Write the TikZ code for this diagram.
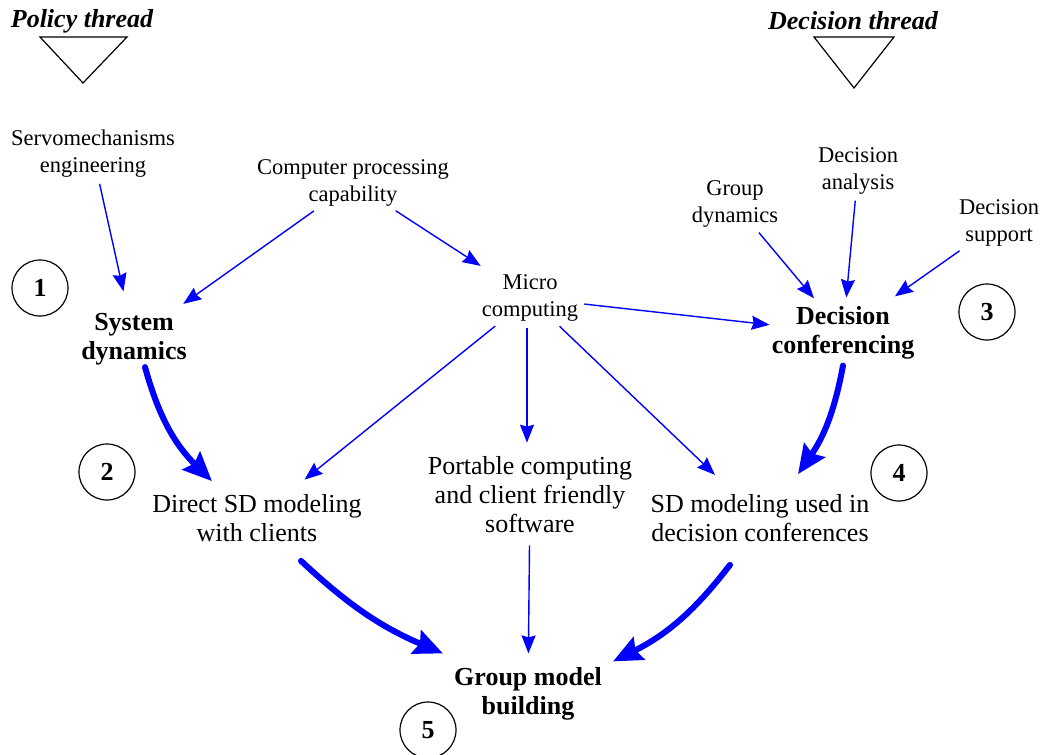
\documentclass[tikz,border=0pt]{standalone}
\usepackage{fontspec}
\setmainfont{Liberation Serif}
\usetikzlibrary{arrows.meta,positioning}
\definecolor{flowblue}{HTML}{0000FF}

\begin{document}
\begin{tikzpicture}[x=1pt, y=-1pt,
  source/.style={align=center, inner sep=2pt, font=\fontsize{22.5}{27}\selectfont},
  stage/.style={align=center, inner sep=2pt, font=\fontsize{26}{29}\selectfont},
  keystage/.style={align=center, inner sep=2pt, font=\fontsize{26}{29}\selectfont\bfseries},
  thread/.style={inner sep=0pt, font=\fontsize{26}{29}\selectfont\bfseries\itshape},
  marker/.style={circle, draw, line width=1.2pt, minimum size=56pt, inner sep=0pt, font=\fontsize{26}{29}\selectfont\bfseries},
  link/.style={-{Stealth[length=18pt, width=14pt, inset=2pt]}, flowblue, line width=1.4pt, shorten <=4pt, shorten >=12pt},
  flow/.style={-{Stealth[length=29pt, width=25pt, inset=4pt]}, flowblue, line width=6pt, line cap=round}
]
  \useasboundingbox (0,0) rectangle (1042,755);

  % thread headers
  \node[thread] (policy) at (82,21) {Policy thread};
  \node[thread] (decision) at (853,21) {Decision thread};
  \draw[line width=1.2pt] (40,37) -- (127,37) -- (83,83) -- cycle;
  \draw[line width=1.2pt] (814,37) -- (894,37) -- (854,88) -- cycle;

  % sources
  \node[source] (servo) at (93,154) {Servomechanisms\\engineering};
  \node[source] (comp) at (353,183) {Computer processing\\capability};
  \node[source] (groupdyn) at (735,204) {Group\\dynamics};
  \node[source] (decana) at (858,171) {Decision\\analysis};
  \node[source] (decsup) at (999,223) {Decision\\support};
  \node[source] (micro) at (530,298) {Micro\\computing};

  % stages
  \node[keystage] (sysdyn) at (134,339) {System\\dynamics};
  \node[keystage] (deccon) at (843,333) {Decision\\conferencing};
  \node[stage] (direct) at (257,518) {Direct SD modeling\\with clients};
  \node[stage] (portable) at (530,495) {Portable computing\\and client friendly\\software};
  \node[stage] (sdconf) at (760,518) {SD modeling used in\\decision conferences};
  \node[keystage] (gmb) at (528,694) {Group model\\building};

  % numbered markers
  \node[marker] (m1) at (40,288) {1};
  \node[marker] (m2) at (107,472) {2};
  \node[marker] (m3) at (987,312) {3};
  \node[marker] (m4) at (899,473) {4};
  \node[marker] (m5) at (428,730) {5};

  % thin links
  \draw[link, shorten >=20pt] (servo) -- (sysdyn);
  \draw[link] (comp) -- (sysdyn);
  \draw[link] (comp) -- (micro);
  \draw[link, shorten >=0pt] (micro) -- (deccon);
  \draw[link, shorten >=8pt] (groupdyn) -- (deccon);
  \draw[link, shorten >=7pt] (decana) -- (deccon);
  \draw[link, shorten >=14pt] (decsup) -- (deccon);
  \draw[link, shorten >=20pt] (micro) -- (direct);
  \draw[link] ([xshift=-3pt]micro.south) -- ([xshift=-3pt]portable.north);
  \draw[link, shorten >=25pt] (micro) -- (sdconf);
  \draw[link, shorten <=10pt] (portable) -- (gmb);

  % thick flows
  \draw[flow] ([xshift=11pt]sysdyn.south) to[bend right=15] ([xshift=-45pt, yshift=11pt]direct.north);
  \draw[flow] ([yshift=-4pt]deccon.south) to[bend left=12] ([xshift=38pt, yshift=18pt]sdconf.north);
  \draw[flow] ([xshift=44pt, yshift=-17pt]direct.south) to[bend right=10] ([xshift=-85pt, yshift=12pt]gmb.north);
  \draw[flow] ([xshift=-30pt, yshift=-21pt]sdconf.south) to[bend left=13] ([xshift=85pt, yshift=4pt]gmb.north);
\end{tikzpicture}
\end{document}
